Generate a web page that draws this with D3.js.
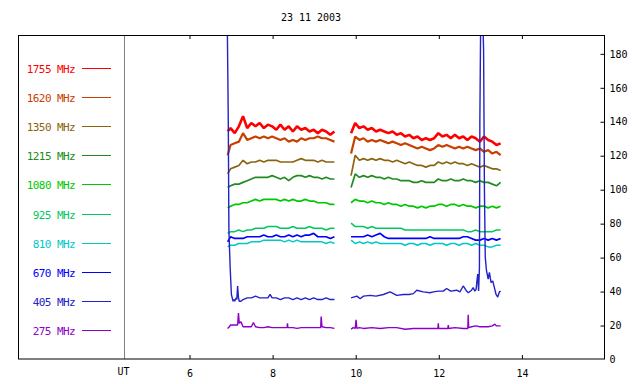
<!DOCTYPE html>
<html>
<head>
<meta charset="utf-8">
<script src="https://cdn.jsdelivr.net/npm/d3@7"></script>
<style>
  html, body { margin: 0; padding: 0; background: #ffffff; }
  svg { display: block; }
</style>
</head>
<body>
<svg id="chart" width="640" height="384"></svg>
<script>
// ---------------- DATA ----------------
const title = "23 11 2003";
const xTicks = [6, 8, 10, 12, 14];
const yTicks = [0, 20, 40, 60, 80, 100, 120, 140, 160, 180];
const freqLabels = ["1755 MHz", "1620 MHz", "1350 MHz", "1215 MHz", "1080 MHz",
                    "925 MHz", "810 MHz", "670 MHz", "405 MHz", "275 MHz"];
const freqColors = ["#ff0000", "#c84000", "#8c6410", "#208c20", "#00c800",
                    "#00c864", "#00c8c8", "#0000ff", "#2222c8", "#8c00c8"];

// common UT grids (hours) for the two observing segments
const T1 = [6.93, 7.0, 7.1, 7.2, 7.3, 7.4, 7.5, 7.6, 7.7, 7.8, 7.9,
            8.0, 8.1, 8.2, 8.3, 8.4, 8.5, 8.6, 8.7, 8.8, 8.9,
            9.0, 9.1, 9.2, 9.3, 9.4, 9.5];
const T2 = [9.9, 10.0, 10.1, 10.2, 10.3, 10.4, 10.5, 10.6, 10.7, 10.8, 10.9,
            11.0, 11.1, 11.2, 11.3, 11.4, 11.5, 11.6, 11.7, 11.8, 11.9,
            12.0, 12.1, 12.2, 12.3, 12.4, 12.5, 12.6, 12.7, 12.8, 12.9,
            13.0, 13.1, 13.2, 13.3, 13.4, 13.5];

const v1755a = [134, 136, 133, 137, 143, 136, 139, 137, 139, 136, 138,
                137, 135, 138, 135, 137, 134, 137, 135, 136,
                134, 135, 133, 135, 134, 132, 134];
const v1755b = [133, 139, 136, 137, 135, 136, 134, 135, 134, 133, 134,
                132, 133, 131, 132, 130, 131, 129, 130, 129, 130,
                133, 131, 132, 130, 132, 130, 131, 129, 131, 130,
                128, 131, 129, 128, 126, 127];

const v1620a = [120, 126, 127, 128, 133, 129, 130, 131, 130, 131, 130,
                131, 130, 129, 130, 128, 129, 128, 130, 129, 130,
                130, 131, 130, 130, 129, 128];
const v1620b = [121, 131, 129, 130, 128, 129, 128, 129, 128, 127, 128,
                127, 126, 127, 126, 125, 124, 125, 124, 123, 124,
                126, 125, 126, 125, 124, 125, 124, 125, 124, 123,
                124, 122, 123, 121, 122, 120];

const v1350a = [109, 112, 113, 114, 117, 115, 116, 116, 117, 116, 117,
                117, 117, 116, 116, 116, 116, 117, 118, 117, 117,
                117, 116, 117, 116, 116, 116];
const v1350b = [108, 120, 117, 118, 117, 118, 117, 118, 117, 117, 116,
                117, 116, 115, 116, 115, 114, 114, 113, 114, 114,
                116, 115, 116, 115, 116, 115, 115, 114, 115, 114,
                113, 114, 113, 112, 112, 111];

const v1215a = [101, 102, 103, 103, 104, 105, 106, 107, 107, 107, 107,
                108, 107, 106, 107, 105, 107, 108, 108, 107, 108,
                107, 107, 106, 107, 106, 106];
const v1215b = [101, 109, 107, 108, 107, 108, 107, 107, 106, 107, 106,
                106, 105, 105, 105, 104, 104, 105, 104, 104, 104,
                106, 105, 105, 106, 105, 105, 106, 105, 105, 104,
                105, 104, 104, 103, 102, 104];

const v1080a = [89, 90, 91, 91, 92, 92, 93, 94, 93, 94, 94,
                94, 94, 93, 94, 93, 94, 93, 93, 94, 93,
                93, 92, 92, 92, 91, 91];
const v1080b = [92, 94, 93, 93, 92, 93, 92, 92, 91, 92, 91,
                91, 90, 91, 90, 90, 89, 90, 89, 90, 90,
                91, 91, 90, 91, 91, 90, 91, 90, 90, 89,
                90, 90, 89, 90, 89, 90];

const v925a = [74, 75, 75, 76, 75, 76, 76, 77, 77, 77, 78,
               78, 78, 77, 77, 77, 78, 77, 77, 77, 78,
               77, 77, 77, 76, 77, 77];
const v925b = [80, 78, 78, 78, 77, 78, 77, 77, 77, 77, 77,
               77, 77, 76, 76, 76, 76, 76, 76, 76, 76,
               76, 76, 76, 76, 76, 76, 76, 75, 75, 76,
               75, 75, 75, 75, 76, 76];

const v810a = [66, 67, 67, 68, 68, 68, 69, 69, 69, 70, 70,
               70, 70, 70, 69, 70, 69, 70, 69, 69, 69,
               69, 69, 69, 68, 69, 68];
const v810b = [70, 68, 69, 68, 69, 68, 69, 68, 68, 68, 68,
               68, 68, 67, 68, 68, 67, 68, 68, 67, 68,
               68, 68, 67, 68, 68, 67, 68, 68, 67, 68,
               67, 67, 66, 66, 67, 67];

const v670a = [69, 72, 71, 71, 71, 72, 72, 72, 72, 73, 72,
               72, 73, 72, 72, 73, 72, 73, 72, 73, 73,
               74, 72, 72, 72, 71, 72];
const v670b = [72, 72, 72, 72, 73, 72, 73, 74, 72, 71, 71,
               71, 71, 71, 71, 71, 71, 71, 71, 72, 71,
               71, 71, 71, 71, 71, 71, 72, 72, 71, 70,
               70, 71, 70, 71, 70, 71];

// 405 MHz and 275 MHz have their own sample times (burst spikes)
const t405a = [6.92, 6.935, 6.945, 6.96, 6.99, 7.02, 7.04, 7.06, 7.08, 7.1,
               7.13, 7.15, 7.17, 7.19, 7.21, 7.25, 7.3, 7.4, 7.5, 7.6,
               7.7, 7.8, 7.9, 7.95, 8.0, 8.1, 8.2, 8.3, 8.4, 8.5,
               8.6, 8.7, 8.8, 8.9, 9.0, 9.1, 9.2, 9.3, 9.4, 9.5];
const v405a = [200, 165, 140, 76, 54, 38, 36, 34, 35, 34,
               36, 35, 43, 36, 34, 34, 35, 36, 36, 37,
               36, 36, 36, 38, 36, 36, 35, 36, 36, 35,
               36, 35, 36, 35, 36, 35, 35, 36, 35, 35];
const t405b = [9.9, 10.04, 10.12, 10.2, 10.36, 10.5, 10.68, 10.84, 11.0, 11.16,
               11.3, 11.4, 11.48, 11.64, 11.8, 11.88, 12.0, 12.12, 12.2, 12.3,
               12.44, 12.52, 12.6, 12.68, 12.72, 12.8, 12.84, 12.88, 12.91, 12.93,
               12.95, 12.97, 12.99, 13.0, 13.02, 13.07, 13.09, 13.11, 13.13, 13.16,
               13.2, 13.23, 13.27, 13.31, 13.35, 13.39, 13.43, 13.47, 13.5];
const v405b = [36, 37, 35.5, 37, 37.5, 37, 38, 39.5, 37.5, 38,
               38, 38.5, 40.5, 39.5, 39, 39.5, 40, 40, 41.5, 40,
               40.5, 39.5, 43, 40, 39, 40.5, 42, 40, 41, 46,
               50, 40, 54, 140, 200, 200, 182, 100, 60, 52,
               47, 51, 45, 46, 42, 38, 36.5, 39.5, 40];

const t275a = [6.93, 6.97, 7.0, 7.1, 7.17, 7.19, 7.21, 7.25, 7.3, 7.4,
               7.5, 7.55, 7.6, 7.7, 7.8, 7.9, 8.0, 8.1, 8.2, 8.3,
               8.36, 8.37, 8.38, 8.5, 8.6, 8.7, 8.8, 8.9, 9.0, 9.1,
               9.17, 9.18, 9.2, 9.3, 9.4, 9.5];
const v275a = [18, 19, 20, 20, 20, 27, 21, 22, 19, 19,
               19, 21.5, 19, 18.5, 18.5, 19, 18.5, 18.5, 18.5, 18.5,
               18.5, 21, 18.5, 18.5, 18, 18.5, 18.5, 18.5, 18.5, 18.5,
               18.5, 25, 19, 18.5, 18.5, 18];
const t275b = [9.9, 9.95, 10.0, 10.02, 10.04, 10.1, 10.2, 10.4, 10.6, 10.8,
               11.0, 11.2, 11.4, 11.6, 11.8, 11.99, 12.0, 12.01, 12.1, 12.23,
               12.24, 12.25, 12.4, 12.6, 12.71, 12.72, 12.73, 12.8, 12.9, 13.0,
               13.1, 13.2, 13.3, 13.36, 13.4, 13.5];
const v275b = [17.5, 18.5, 18, 23, 18, 18.5, 18, 18.5, 18, 18.5,
               18.5, 17.5, 18, 18, 18, 18, 21, 18, 18, 18,
               20, 18, 18.5, 18, 18, 26, 18.5, 19, 19.5, 19,
               19, 19, 19.5, 20.5, 19.5, 19.5];

// ---------------- BUILD SERIES ----------------
function zip(ts, vs) { return ts.map((t, i) => ({ t: t, v: vs[i] })); }
const series = [
  { segs: [zip(T1, v1755a), zip(T2, v1755b)], w: 2.6 },
  { segs: [zip(T1, v1620a), zip(T2, v1620b)], w: 2.2 },
  { segs: [zip(T1, v1350a), zip(T2, v1350b)], w: 1.7 },
  { segs: [zip(T1, v1215a), zip(T2, v1215b)], w: 1.7 },
  { segs: [zip(T1, v1080a), zip(T2, v1080b)], w: 1.7 },
  { segs: [zip(T1, v925a), zip(T2, v925b)], w: 1.5 },
  { segs: [zip(T1, v810a), zip(T2, v810b)], w: 1.5 },
  { segs: [zip(T1, v670a), zip(T2, v670b)], w: 1.7 },
  { segs: [zip(t405a, v405a), zip(t405b, v405b)], w: 1.4 },
  { segs: [zip(t275a, v275a), zip(t275b, v275b)], w: 1.4 }
];
series.forEach((s, i) => { s.label = freqLabels[i]; s.color = freqColors[i]; });

// ---------------- LAYOUT ----------------
const frame = { left: 18, top: 35, right: 604, bottom: 359 };
const svg = d3.select("#chart");
const FONT = "'DejaVu Sans Mono', 'Liberation Mono', monospace";

const x = d3.scaleLinear().domain([4.44, 16]).range([124.2, 604.5]);
const y = d3.scaleLinear().domain([0, 190.8]).range([frame.bottom, frame.top]);

svg.append("defs").append("clipPath").attr("id", "plotclip")
  .append("rect")
  .attr("x", 124.5).attr("y", frame.top)
  .attr("width", frame.right - 124.5).attr("height", frame.bottom - frame.top);

// title
svg.append("text")
  .attr("x", (frame.left + frame.right) / 2)
  .attr("y", 21)
  .attr("text-anchor", "middle")
  .attr("font-family", FONT)
  .attr("font-size", 10)
  .attr("fill", "#000")
  .text(title);

// data lines
const line = d3.line().x(d => x(d.t)).y(d => y(d.v));
const gData = svg.append("g").attr("clip-path", "url(#plotclip)");
series.forEach(s => {
  s.segs.forEach(seg => {
    gData.append("path")
      .datum(seg)
      .attr("d", line)
      .attr("fill", "none")
      .attr("stroke", s.color)
      .attr("stroke-width", s.w)
      .attr("stroke-linejoin", "bevel");
  });
});

// separator line between legend and plot
svg.append("line")
  .attr("x1", 124.5).attr("x2", 124.5)
  .attr("y1", frame.top).attr("y2", frame.bottom)
  .attr("stroke", "#808080").attr("stroke-width", 1);

// frame
svg.append("rect")
  .attr("x", frame.left + 0.5).attr("y", frame.top + 0.5)
  .attr("width", frame.right - frame.left).attr("height", frame.bottom - frame.top - 0.5)
  .attr("fill", "none").attr("stroke", "#000").attr("stroke-width", 1);

// bottom axis
const gx = svg.append("g")
  .attr("transform", `translate(0.5,${frame.bottom})`)
  .call(d3.axisBottom(x).tickValues(xTicks).tickSizeInner(-4).tickSizeOuter(0)
        .tickPadding(11).tickFormat(d3.format("d")));
gx.select(".domain").remove();
gx.attr("font-family", FONT).attr("font-size", 10);
gx.selectAll("line").attr("stroke", "#000");

// top axis ticks
const gxt = svg.append("g")
  .attr("transform", `translate(0.5,${frame.top})`)
  .call(d3.axisTop(x).tickValues(xTicks).tickSizeInner(-4).tickSizeOuter(0).tickFormat(""));
gxt.select(".domain").remove();
gxt.selectAll("line").attr("stroke", "#000");

// right axis
const gy = svg.append("g")
  .attr("transform", `translate(${frame.right + 0.5},0.5)`)
  .call(d3.axisRight(y).tickValues(yTicks).tickSizeInner(-4).tickSizeOuter(0)
        .tickPadding(5).tickFormat(d3.format("d")));
gy.select(".domain").remove();
gy.attr("font-family", FONT).attr("font-size", 10);
gy.selectAll("line").attr("stroke", "#000");
gy.selectAll(".tick").filter(d => d === 0).select("line").remove();

// UT label
svg.append("text")
  .attr("x", 123.5).attr("y", 374.5)
  .attr("text-anchor", "middle")
  .attr("font-family", FONT).attr("font-size", 10)
  .attr("fill", "#000")
  .text("UT");

// legend
const legY0 = 67.5, legStep = 29.2;
const gLeg = svg.append("g");
series.forEach((s, i) => {
  const ly = Math.round(legY0 + i * legStep) + 0.5;
  gLeg.append("text")
    .attr("x", 75).attr("y", ly + 4.5)
    .attr("text-anchor", "end")
    .attr("font-family", FONT).attr("font-size", 11)
    .attr("letter-spacing", "-0.6px")
    .attr("fill", s.color)
    .text(s.label);
  gLeg.append("line")
    .attr("x1", 82).attr("x2", 111)
    .attr("y1", ly).attr("y2", ly)
    .attr("stroke", s.color).attr("stroke-width", 1);
});
</script>
</body>
</html>
